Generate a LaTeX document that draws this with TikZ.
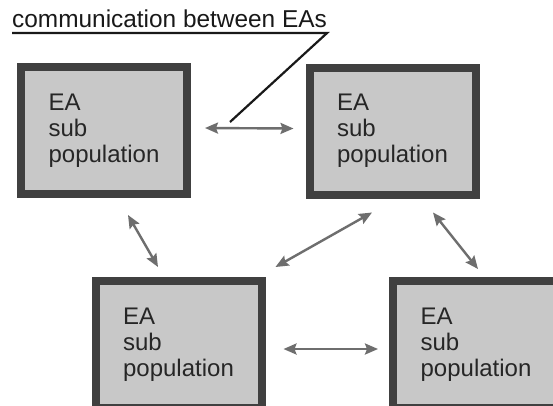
\documentclass[tikz,border=0pt]{standalone}
\usepackage{fontspec}
\setmainfont{Liberation Sans}
\usetikzlibrary{arrows.meta}

\definecolor{popfill}{HTML}{C8C8C8}
\definecolor{popline}{HTML}{404040}
\definecolor{linkgray}{HTML}{6E6E6E}

\begin{document}
\begin{tikzpicture}[x=1pt,y=-1pt,
  popbox/.style={draw=popline, fill=popfill, line width=8pt, inner sep=0pt,
    minimum width=166pt, minimum height=127pt, align=left, text=black!85,
    font=\fontsize{24}{26}\selectfont},
  link/.style={linkgray, line width=2.4pt,
    {Stealth[length=13pt,width=11pt,inset=2pt]}-{Stealth[length=13pt,width=11pt,inset=2pt]}}]
\useasboundingbox (0,0) rectangle (553,405);
\clip (0,0) rectangle (553,405);
\fill [white] (0,0) rectangle (553,405);

% sub populations
\node [popbox] (tl) at (104,130.5) {EA\\sub\\population};
\node [popbox] (tr) at (392.5,131) {EA\\sub\\population};
\node [popbox] (bl) at (178.5,344.5) {EA\\sub\\population};
\node [popbox] (br) at (476,344.5) {EA\\sub\\population};

% migration between them
\draw [link] ([xshift=14pt,yshift=2.5pt]tl.east) -- ([xshift=-12pt,yshift=2.5pt]tr.west);
\draw [link] ([xshift=24pt,yshift=-17pt]tl.south) -- ([xshift=-20.5pt,yshift=10pt]bl.north);
\draw [link] ([xshift=-20.5pt,yshift=-14pt]tr.south) -- ([xshift=10pt,yshift=10pt]bl.north east);
\draw [link] ([xshift=40.5pt,yshift=-14pt]tr.south) -- ([xshift=2pt,yshift=8pt]br.north);
\draw [link] ([xshift=18pt,yshift=-4.5pt]bl.east) -- ([xshift=-11pt,yshift=-4.5pt]br.west);

% label
\node [anchor=south west, inner sep=0pt, text=black!90,
  font=\fontsize{24.4}{26}\selectfont] (title) at (12,28) {communication between EAs};
\coordinate (msg) at (230,122);
\draw [black!90, line width=2.2pt] ([yshift=-5pt]title.south west) -- ([yshift=-5pt]title.south east) -- (msg);
\end{tikzpicture}
\end{document}
